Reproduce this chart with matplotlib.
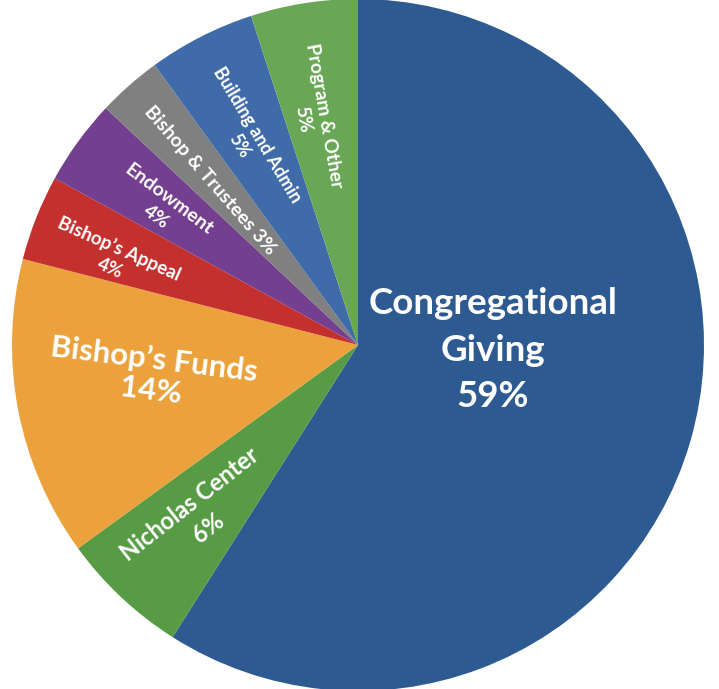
import matplotlib
matplotlib.use("Agg")
import matplotlib.pyplot as plt
import numpy as np

labels = ["Congregational\nGiving\n59%", "Nicholas Center\n6%", "Bishop\u2019s Funds\n14%",
          "Bishop\u2019s Appeal\n4%", "Endowment\n4%", "Bishop & Trustees 3%",
          "Building and Admin\n5%", "Program & Other\n5%"]
values = [59, 6, 14, 4, 4, 3, 5, 5]
colors = ["#2E5A92", "#579C45", "#EBA23D", "#C4302E", "#743F8E", "#808080", "#3F6BA8", "#69A756"]
font_sizes = [26.5, 17, 22.5, 13.5, 14, 14, 12.8, 13.8]
rotations = [0, 38, -7, -24, -37, -49, -59, -80]
radii = [0.39, 0.675, 0.60, 0.746, 0.69, 0.64, 0.67, 0.67]
angle_offsets = [14, 0.3, -2.5, 1.9, 1.0, 0.5, 1.2, 2.0]
line_spacings = [1.5, 1.35, 1.12, 1.3, 1.4, 1.0, 1.3, 1.3]

fig = plt.figure(figsize=(7.19, 6.89), dpi=100)
ax = fig.add_axes([12/719, -2/689, 692/719, 692/689])
wedges, _ = ax.pie(values, colors=colors, startangle=90, counterclock=False, radius=1,
                   wedgeprops=dict(linewidth=0))
ax.set_xlim(-1, 1)
ax.set_ylim(-1, 1)
ax.set_aspect("equal")
ax.axis("off")

for w, lab, fs, rot, r, off, ls in zip(wedges, labels, font_sizes, rotations, radii,
                                       angle_offsets, line_spacings):
    ang = np.deg2rad((w.theta1 + w.theta2) / 2 + off)
    x, y = r * np.cos(ang), r * np.sin(ang)
    ax.text(x, y, lab, ha="center", va="center", rotation=rot, rotation_mode="anchor",
            color="white", fontsize=fs, fontweight="bold", family=["Lato", "DejaVu Sans"],
            linespacing=ls, multialignment="center")

fig.savefig("out.png", dpi=100)
